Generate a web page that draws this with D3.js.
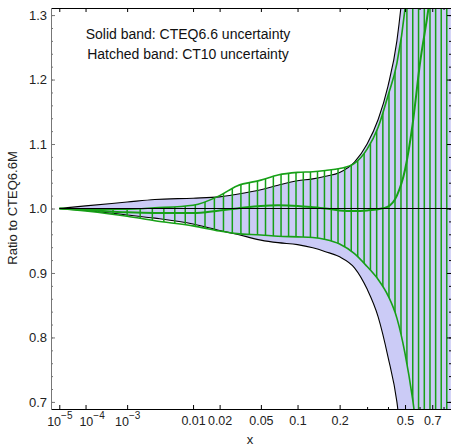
<!DOCTYPE html>
<html lang="en">
<head>
<meta charset="UTF-8">
<title>Ratio to CTEQ6.6M</title>
<script src="https://cdn.jsdelivr.net/npm/d3@7"></script>
<style>
  body { margin: 0; background: #fff; }
  text { font-family: "Liberation Sans", Arial, sans-serif; }
</style>
</head>
<body>
<div id="grafica"></div>
<script>
// x points shared by every curve
const xs      = [1e-5, 1e-4, 1e-3, 0.003, 0.01, 0.02, 0.03, 0.05, 0.07, 0.1, 0.13, 0.16, 0.2, 0.25, 0.3, 0.35, 0.4, 0.45, 0.5, 0.55, 0.6, 0.7, 0.8, 0.87]
// CTEQ6.6 band (solid)
const cteqHi  = [1.0, 1.004, 1.010, 1.014, 1.016, 1.018, 1.022, 1.029, 1.036, 1.043, 1.046, 1.050, 1.056, 1.072, 1.100, 1.138, 1.19, 1.26, 1.38, 1.55, 1.75, 2.2, 2.8, 3.3]
const cteqLo  = [1.0, 0.997, 0.990, 0.985, 0.976, 0.966, 0.960, 0.951, 0.947, 0.944, 0.939, 0.933, 0.925, 0.908, 0.875, 0.832, 0.770, 0.700, 0.58, 0.45, 0.30, 0.05, -0.2, -0.4]
// CT10 band (hatched) and its central set
const ct10Hi  = [1.0, 0.999, 0.999, 1.001, 1.005, 1.020, 1.035, 1.044, 1.052, 1.056, 1.057, 1.059, 1.062, 1.070, 1.092, 1.126, 1.175, 1.225, 1.31, 1.45, 1.60, 2.0, 2.5, 3.0]
const ct10Lo  = [1.0, 0.996, 0.988, 0.981, 0.973, 0.965, 0.961, 0.959, 0.957, 0.956, 0.955, 0.952, 0.945, 0.930, 0.910, 0.890, 0.865, 0.830, 0.775, 0.705, 0.62, 0.45, 0.25, 0.1]
const ct10Mid = [1.0, 0.998, 0.994, 0.993, 0.993, 0.997, 1.000, 1.004, 1.005, 1.004, 1.002, 1.000, 0.997, 0.996, 0.997, 0.999, 1.003, 1.020, 1.06, 1.13, 1.22, 1.36, 1.6, 1.8]

const xMajor = [1e-5, 1e-4, 1e-3, 0.01, 0.02, 0.05, 0.1, 0.2, 0.5, 0.7]
const xMinor = [0.3, 0.4, 0.6, 0.8]
const yMajor = [0.7, 0.8, 0.9, 1.0, 1.1, 1.2, 1.3]
const yMinor = d3.range(0.70, 1.31, 0.02)

const ancho_total = 451, alto_total = 448
const margin = { left: 51, right: 0, top: 8, bottom: 39 }
const ancho = ancho_total - margin.left - margin.right
const alto  = alto_total - margin.top - margin.bottom

const svg = d3.select('#grafica').append('svg')
  .attr('width', ancho_total).attr('height', alto_total)

const g = svg.append('g')
  .attr('transform', `translate(${margin.left},${margin.top})`)

// x axis is linear in x^(1/5)
const x = d3.scalePow().exponent(0.2).domain([3.6e-6, 0.872]).range([0, ancho])
const y = d3.scaleLinear().domain([0.689, 1.311]).range([alto, 0])

const green = '#17a017'

const rows = xs.map((v, i) => ({ x: v, chi: cteqHi[i], clo: cteqLo[i], thi: ct10Hi[i], tlo: ct10Lo[i], mid: ct10Mid[i] }))

const defs = svg.append('defs')
defs.append('clipPath').attr('id', 'plotclip')
  .append('rect').attr('width', ancho).attr('height', alto)

const curve = d3.curveMonotoneX
const areaCteq = d3.area().curve(curve).x(d => x(d.x)).y0(d => y(d.clo)).y1(d => y(d.chi))
const areaCt10 = d3.area().curve(curve).x(d => x(d.x)).y0(d => y(d.tlo)).y1(d => y(d.thi))
const line = key => d3.line().curve(curve).x(d => x(d.x)).y(d => y(d[key]))

defs.append('clipPath').attr('id', 'ct10clip')
  .append('path').attr('d', areaCt10(rows))

const plot = g.append('g').attr('clip-path', 'url(#plotclip)')

plot.append('path').attr('d', areaCteq(rows)).attr('fill', '#cbcbf6')
plot.append('path').attr('d', line('chi')(rows)).attr('fill', 'none').attr('stroke', '#000').attr('stroke-width', 1.1)
plot.append('path').attr('d', line('clo')(rows)).attr('fill', 'none').attr('stroke', '#000').attr('stroke-width', 1.1)

// hatching: vertical lines evenly spaced in x^(1/3), clipped to the CT10 band
const hatch = d3.range(0.02, 0.99, 0.02).map(u => u * u * u)
plot.append('g').attr('clip-path', 'url(#ct10clip)')
  .selectAll('line').data(hatch).enter().append('line')
  .attr('x1', d => x(d)).attr('x2', d => x(d))
  .attr('y1', 0).attr('y2', alto)
  .attr('stroke', green).attr('stroke-width', 1.5)

plot.append('path').attr('d', line('thi')(rows)).attr('fill', 'none').attr('stroke', green).attr('stroke-width', 1.6)
plot.append('path').attr('d', line('tlo')(rows)).attr('fill', 'none').attr('stroke', green).attr('stroke-width', 1.6)
plot.append('path').attr('d', line('mid')(rows)).attr('fill', 'none').attr('stroke', green).attr('stroke-width', 2)

plot.append('line')
  .attr('x1', x(1e-5)).attr('x2', ancho)
  .attr('y1', y(1)).attr('y2', y(1))
  .attr('stroke', '#000').attr('stroke-width', 1)

// axes (ticks point inwards)
function styleAxis(sel, color, size) {
  sel.attr('font-family', null).attr('font-size', size)
  sel.select('.domain').attr('stroke', color)
  sel.selectAll('.tick line').attr('stroke', color)
  sel.selectAll('.tick text').attr('fill', '#222')
}

const supers = { 1e-5: '−5', 1e-4: '−4', 1e-3: '−3' }
const xAxis = g.append('g').attr('transform', `translate(0,${alto})`)
  .call(d3.axisBottom(x).tickValues(xMajor).tickSize(-4).tickSizeOuter(0).tickPadding(7)
    .tickFormat(d => supers[d] ? '10' : String(d)))
styleAxis(xAxis, '#000', 12.5)
xAxis.selectAll('.tick text').each(function (d) {
  if (supers[d]) {
    d3.select(this).attr('y', 8.5).attr('dx', d === 1e-4 ? 6 : 0)
      .append('tspan').attr('font-size', 10).attr('dy', '-0.7em').text(supers[d])
  }
})
g.append('g').attr('transform', `translate(0,${alto})`)
  .call(d3.axisBottom(x).tickValues(xMinor).tickSize(-2).tickSizeOuter(0).tickFormat(''))
  .call(s => s.select('.domain').remove())

const xTop = g.append('g')
  .call(d3.axisTop(x).tickValues(xMajor).tickSize(-4).tickSizeOuter(0).tickFormat(''))
styleAxis(xTop, '#000', 12.5)
g.append('g')
  .call(d3.axisTop(x).tickValues(xMinor).tickSize(-2).tickFormat(''))
  .call(s => s.select('.domain').remove())

const yAxis = g.append('g')
  .call(d3.axisLeft(y).tickValues(yMajor).tickSize(-4).tickSizeOuter(0).tickPadding(4).tickFormat(d3.format('.1f')))
styleAxis(yAxis, '#777', 13)
g.append('g')
  .call(d3.axisLeft(y).tickValues(yMinor).tickSize(-2).tickFormat(''))
  .call(s => { s.select('.domain').remove(); s.selectAll('line').attr('stroke', '#777') })

const yRight = g.append('g').attr('transform', `translate(${ancho},0)`)
  .call(d3.axisRight(y).tickValues(yMajor).tickSize(-4).tickSizeOuter(0).tickFormat(''))
styleAxis(yRight, '#000', 13)
g.append('g').attr('transform', `translate(${ancho},0)`)
  .call(d3.axisRight(y).tickValues(yMinor).tickSize(-2).tickFormat(''))
  .call(s => s.select('.domain').remove())

// labels
svg.append('text').attr('x', 250).attr('y', 444).attr('text-anchor', 'middle')
  .attr('font-size', 13).attr('fill', '#222').text('x')
svg.append('text').attr('transform', 'translate(17,208) rotate(-90)').attr('text-anchor', 'middle')
  .attr('font-size', 13).attr('fill', '#222').text('Ratio to CTEQ6.6M')

svg.append('text').attr('x', 188).attr('y', 39).attr('text-anchor', 'middle')
  .attr('font-size', 14).attr('fill', '#111').text('Solid band: CTEQ6.6 uncertainty')
svg.append('text').attr('x', 188).attr('y', 59).attr('text-anchor', 'middle')
  .attr('font-size', 14).attr('fill', '#111').text('Hatched band: CT10 uncertainty')
</script>
</body>
</html>
